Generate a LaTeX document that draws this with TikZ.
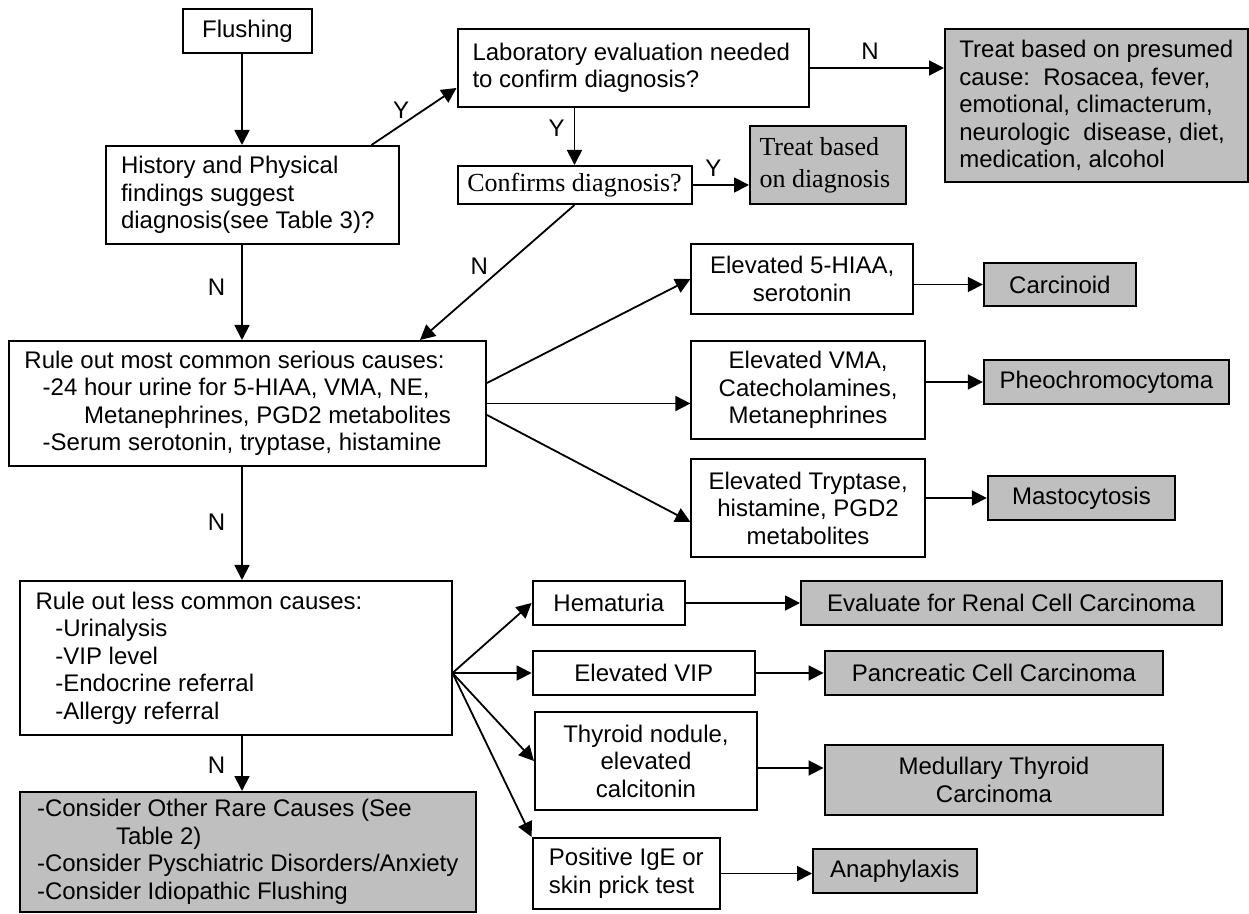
\documentclass[tikz,border=0pt]{standalone}
\usepackage{fontspec}
\setmainfont{Liberation Sans}
\newfontfamily\timesfont{Liberation Serif}
\usetikzlibrary{arrows.meta,calc}
\tikzstyle{box}=[draw, line width=1pt, inner sep=0pt, align=left, font=\fontsize{12}{13.75}\selectfont]
\tikzstyle{outcome}=[box, fill=gray!50]
\tikzstyle{serifbox}=[font=\timesfont\fontsize{13}{16}\selectfont]
\tikzstyle{flow}=[line width=0.9pt, -{Triangle[length=7.5pt, width=7.5pt]}]
\tikzstyle{yn}=[inner sep=0pt, font=\fontsize{12}{13.75}\selectfont]
\tikzset{boxsize/.style 2 args={minimum width=#1, minimum height=#2}}
\begin{document}
\begin{tikzpicture}[x=0.5pt, y=-0.5pt]
        \useasboundingbox (0,0) rectangle (1249,914);
        % left column
        \node[box, boxsize={64.5pt}{22pt}] (flush) at (247.5,31) {Flushing};
        \node[box, boxsize={146.5pt}{49pt}, align=flush left, text width=131.5pt, inner xsep=7.5pt] (hist) at (252.5,195) {History and Physical\\findings suggest\\diagnosis(see Table 3)?};
        \node[box, boxsize={238.65pt}{62.5pt}, align=flush left, text width=222.85pt, inner xsep=7.9pt] (common) at (247.35,403.5) {Rule out most common serious causes:\\\hspace*{9.1pt}-24 hour urine for 5-HIAA, VMA, NE,\\\hspace*{29.85pt}Metanephrines, PGD2 metabolites\\\hspace*{9.1pt}-Serum serotonin, tryptase, histamine};
        \node[box, boxsize={215.85pt}{77pt}, align=flush left, text width=200.05pt, inner xsep=7.9pt] (less) at (235.65,658) {Rule out less common causes:\\\hspace*{9.9pt}-Urinalysis\\\hspace*{9.9pt}-VIP level\\\hspace*{9.9pt}-Endocrine referral\\\hspace*{9.9pt}-Allergy referral};
        \node[outcome, boxsize={227.95pt}{60pt}] (rare) at (247.75,852) {-Consider Other Rare Causes (See\\\hspace*{39.5pt}Table 2)\\-Consider Pyschiatric Disorders/Anxiety\\-Consider Idiopathic Flushing};
        % top
        \node[box, boxsize={175.5pt}{39pt}, align=flush left, text width=160.5pt, inner xsep=7.5pt] (lab) at (633,68) {Laboratory evaluation needed\\to confirm diagnosis?};
        \node[box, serifbox, boxsize={117pt}{19pt}] (conf) at (574.5,185) {Confirms diagnosis?};
        \node[outcome, serifbox, boxsize={78pt}{39pt}, align=flush left, text width=68.5pt, inner xsep=4.75pt] (treatdx) at (828,165) {Treat based\\on diagnosis};
        \node[outcome, boxsize={151.35pt}{76.5pt}] (presumed) at (1096.35,105.5) {Treat based on presumed\\cause:\ \ Rosacea, fever,\\emotional, climacterum,\\neurologic\ \ disease, diet,\\medication, alcohol};
        % serious causes
        \node[box, boxsize={110.8pt}{35pt}, align=center] (hiaa) at (802.2,279) {Elevated 5-HIAA,\\serotonin};
        \node[outcome, boxsize={76.1pt}{21.5pt}] (carc) at (1059.9,284.5) {Carcinoid};
        \node[box, boxsize={116.7pt}{49pt}, align=center] (vma) at (808.1,390) {Elevated VMA,\\Catecholamines,\\Metanephrines};
        \node[outcome, boxsize={122.6pt}{22pt}] (pheo) at (1106.4,382) {Pheochromocytoma};
        \node[box, boxsize={116.7pt}{49pt}, align=center] (tryp) at (808.1,508) {Elevated Tryptase,\\histamine, PGD2\\metabolites};
        \node[outcome, boxsize={93.6pt}{22pt}] (masto) at (1081.4,498) {Mastocytosis};
        % less common causes
        \node[box, boxsize={76.2pt}{22pt}] (hema) at (608.8,603) {Hematuria};
        \node[outcome, boxsize={210.3pt}{22pt}] (renal) at (1011.3,603) {Evaluate for Renal Cell Carcinoma};
        \node[box, boxsize={111.2pt}{22pt}] (vip) at (643.8,673) {Elevated VIP};
        \node[outcome, boxsize={169.45pt}{22pt}] (panc) at (994,673) {Pancreatic Cell Carcinoma};
        \node[box, boxsize={111pt}{49pt}, align=center] (thyr) at (646,761) {Thyroid nodule,\\elevated\\calcitonin};
        \node[outcome, boxsize={169.45pt}{35pt}, align=center] (mtc) at (994,780) {Medullary Thyroid\\Carcinoma};
        \node[box, boxsize={93.7pt}{35.5pt}] (ige) at (626.3,873.5) {Positive IgE or\\skin prick test};
        \node[outcome, boxsize={81.8pt}{22pt}] (ana) at (894.8,871) {Anaphylaxis};
        \coordinate (spine) at (242,0);
        \coordinate (fan) at (less.east |- vip.west);
        \coordinate (thyrout) at ($(thyr.east)+(0,7)$);
        \draw[flow] (flush.south -| spine) -- (hist.north -| spine);
        \draw[flow] ($(hist.north east)+(-28.5,0)$) -- node[yn, above=3pt, pos=.35] {Y} ($(lab.west)+(0,20)$);
        \draw[flow] (lab.south -| conf.north) -- node[yn, left=4.5pt, pos=.36] {Y} (conf.north);
        \draw[flow] (lab.east) -- node[yn, above=4pt, pos=.45] {N} (lab.east -| presumed.west);
        \draw[flow] (conf.east) -- node[yn, above=4pt, pos=.37] {Y} (conf.east -| treatdx.west);
        \draw[flow] (conf.south) -- node[yn, left=8pt, pos=.45] {N} ($(common.north east)+(-67,0)$);
        \draw[flow] (hist.south -| spine) -- node[yn, left=8pt, pos=.44] {N} (common.north -| spine);
        \draw[flow] ($(common.north east)+(0,43)$) -- (hiaa.west);
        \draw[flow] (common.east) -- (common.east -| vma.west);
        \draw[flow] ($(common.north east)+(0,75)$) -- ($(tryp.west)+(0,14)$);
        \draw[flow] (common.south -| spine) -- node[yn, left=8pt, pos=.49] {N} (less.north -| spine);
        \draw[flow] (fan) -- (hema.west);
        \draw[flow] (fan) -- (vip.west);
        \draw[flow] (fan) -- (thyr.west);
        \draw[flow] (fan) -- (ige.north west);
        \draw[flow] (less.south -| spine) -- node[yn, left=8pt, pos=.53] {N} (rare.north -| spine);
        \draw[flow] (carc.west -| hiaa.east) -- (carc.west);
        \draw[flow] (pheo.west -| vma.east) -- (pheo.west);
        \draw[flow] (masto.west -| tryp.east) -- (masto.west);
        \draw[flow] (hema.east) -- (renal.west);
        \draw[flow] (vip.east) -- (panc.west);
        \draw[flow] (thyrout) -- (thyrout -| mtc.west);
        \draw[flow] (ige.east) -- (ige.east -| ana.west);
\end{tikzpicture}
\end{document}
